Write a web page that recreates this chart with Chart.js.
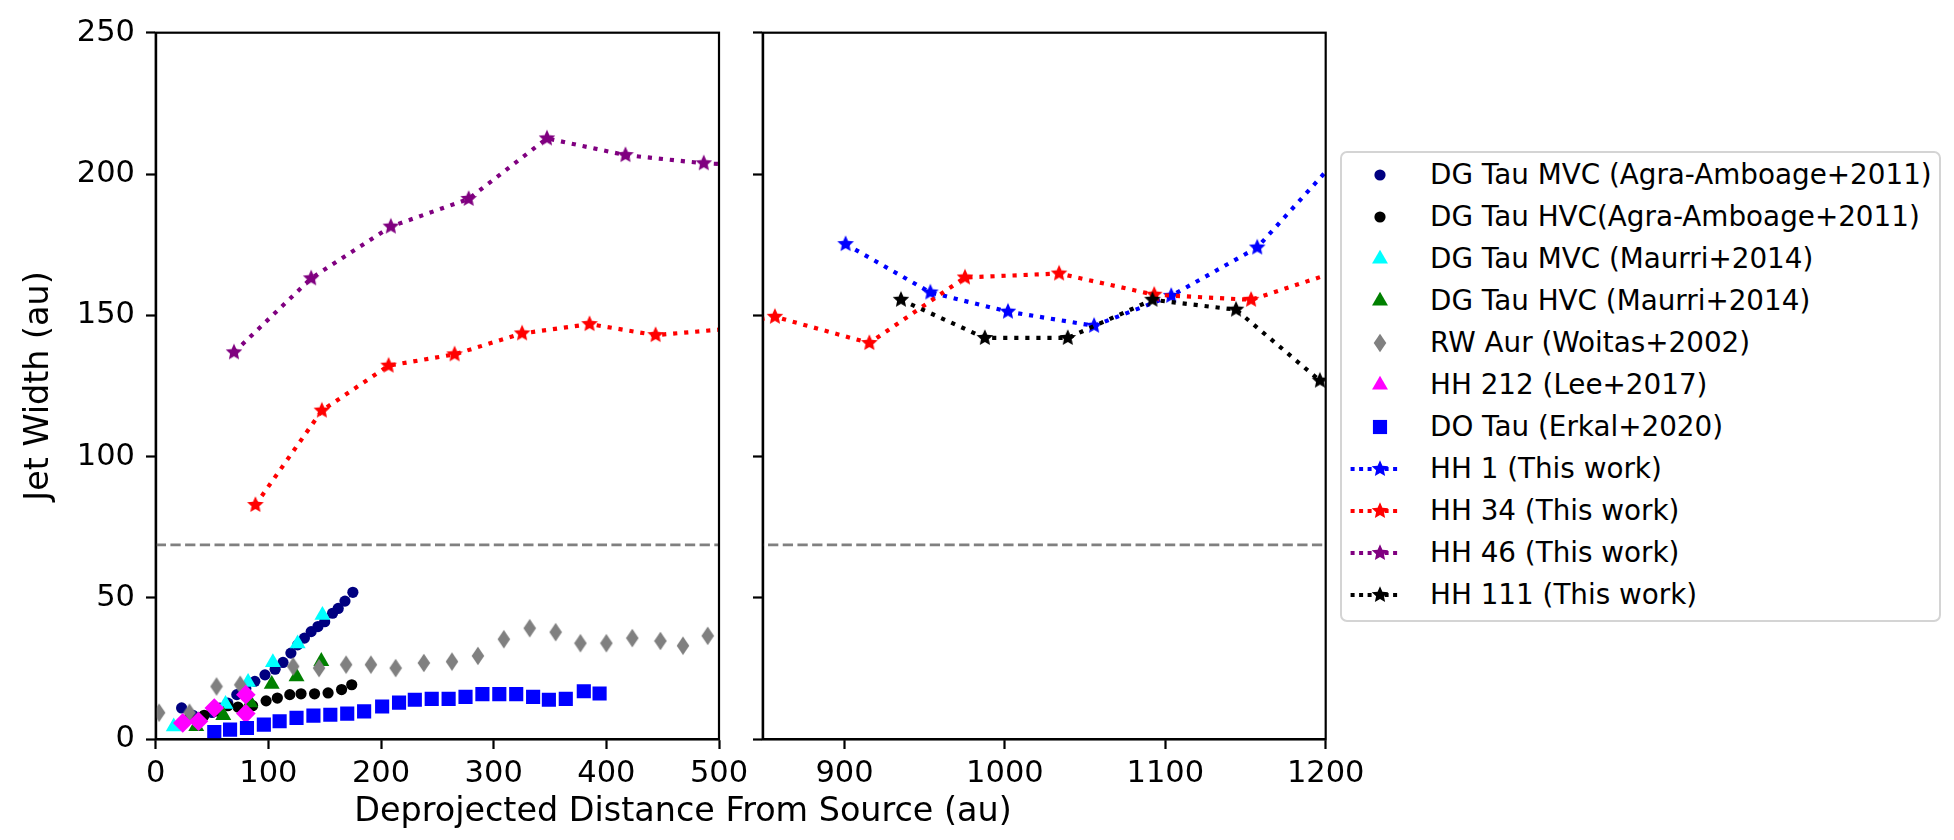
<!DOCTYPE html>
<html>
<head>
<meta charset="utf-8">
<script src="https://cdn.jsdelivr.net/npm/chart.js@4"></script>
<style>
  body { margin: 0; background: #fff; width: 1954px; height: 840px; overflow: hidden; position: relative; font-family: 'DejaVu Sans', sans-serif; }
  canvas.panel { position: absolute; top: 0; }
  #izq { left: 0; }
  #der { left: 740px; }
  #etiquetaX { position: absolute; left: 0; top: 793px; width: 1366px; text-align: center; font-size: 33.4px; line-height: 33.4px; color: #000; }
  #leyenda { position: absolute; left: 1340px; top: 151px; width: 601px; height: 471px; box-sizing: border-box; border: 2px solid #d4d4d4; border-radius: 7px; background: #fff; }
  .fila-texto { position: absolute; left: 88px; font-size: 27.8px; line-height: 42px; height: 42px; white-space: nowrap; color: #000; }
  .fila-marca { position: absolute; left: 3px; }
</style>
</head>
<body>
<canvas id="izq" class="panel" width="760" height="840"></canvas>
<canvas id="der" class="panel" width="631" height="840"></canvas>
<div id="etiquetaX">Deprojected Distance From Source (au)</div>
<div id="leyenda"></div>
<script>
/* ---- datos ---- */
const rangoIzq = [0, 500];
const rangoDer = [849, 1200];
const rangoY = [0, 250];
const ticksIzq = [0, 100, 200, 300, 400, 500];
const ticksDer = [900, 1000, 1100, 1200];
const ticksY = [0, 50, 100, 150, 200, 250];
const anchoUmbral = 68.8;

const mvcAgraX = [23, 33, 42, 50, 57, 64, 72, 80, 88, 97, 106, 113, 120, 126, 132, 138, 144, 150, 157, 162, 168, 175];
const mvcAgraY = [11.1, 8.5, 8.0, 9.5, 11.0, 12.8, 15.8, 18.0, 20.5, 22.8, 24.8, 27.2, 30.5, 33.4, 35.8, 38.1, 39.9, 41.6, 44.6, 46.3, 48.9, 52.0];

const hvcAgraX = [30, 43, 55, 64, 73, 86, 98, 108, 119, 129, 141, 153, 165, 174];
const hvcAgraY = [7.5, 8.5, 10.0, 11.9, 11.4, 11.9, 13.6, 14.6, 15.8, 16.1, 16.1, 16.4, 17.6, 19.3];

const mvcMaurriX = [16, 62, 82, 104, 126, 148];
const mvcMaurriY = [4.5, 12.4, 20.2, 27.2, 33.8, 43.9];

const hvcMaurriX = [36, 60, 84, 103, 125, 147];
const hvcMaurriY = [4.6, 8.5, 13.0, 19.5, 22.2, 27.6];

const rwAurX = [3, 30, 54, 75, 122, 145, 169, 191, 213, 238, 263, 286, 309, 332, 355, 377, 400, 423, 448, 468, 490];
const rwAurY = [9.4, 9.4, 18.7, 19.3, 25.8, 25.2, 26.4, 26.4, 25.2, 27.0, 27.5, 29.5, 35.4, 39.3, 37.9, 34.0, 34.0, 35.8, 34.8, 33.1, 36.6];

const hh212X = [24, 38, 52, 80, 80];
const hh212Y = [5.8, 6.4, 11.1, 15.8, 9.1];

const doTauX = [52, 66, 81, 96, 110, 125, 140, 155, 170, 185, 201, 216, 230, 245, 260, 275, 290, 305, 320, 335, 349, 364, 380, 394];
const doTauY = [2.6, 3.4, 4.0, 5.2, 6.4, 7.6, 8.4, 8.7, 9.1, 9.9, 11.6, 13.0, 14.0, 14.3, 14.3, 15.0, 16.0, 16.0, 16.0, 15.0, 14.0, 14.3, 17.0, 16.2];

const hh1X = [900.7, 953.5, 1001.9, 1055.6, 1103.7, 1157.3, 1211];
const hh1Y = [175.2, 158.1, 151.3, 146.3, 156.9, 174.0, 207.7];

const hh34X = [88.5, 147.5, 206.7, 265.3, 325.2, 385.1, 443.7, 560, 800, 856.6, 915.5, 975.1, 1033.8, 1093.1, 1153.5, 1215];
const hh34Y = [82.9, 116.3, 132.2, 136.2, 143.6, 146.9, 143.0, 147.0, 144.2, 149.5, 140.2, 163.4, 164.8, 157.3, 155.5, 167.0];

const hh46X = [69.5, 138, 208.7, 277.8, 347.3, 417, 486.5, 556];
const hh46Y = [136.9, 163.1, 181.4, 191.2, 212.6, 206.7, 203.8, 202.5];

const hh111X = [935.2, 987.5, 1039.2, 1092.0, 1144.1, 1196.4];
const hh111Y = [155.5, 142.0, 142.0, 155.5, 152.0, 126.9];

/* ---- estilos de cada serie ---- */
const series = [
  { label: 'DG Tau MVC (Agra-Amboage+2011)', x: mvcAgraX, y: mvcAgraY, color: '#000080', marca: 'circle', r: 5.6 },
  { label: 'DG Tau HVC(Agra-Amboage+2011)', x: hvcAgraX, y: hvcAgraY, color: '#000000', marca: 'circle', r: 5.6 },
  { label: 'DG Tau MVC (Maurri+2014)', x: mvcMaurriX, y: mvcMaurriY, color: '#00ffff', marca: 'triangle', r: 9.2 },
  { label: 'DG Tau HVC (Maurri+2014)', x: hvcMaurriX, y: hvcMaurriY, color: '#008000', marca: 'triangle', r: 9.2 },
  { label: 'RW Aur (Woitas+2002)', x: rwAurX, y: rwAurY, color: '#808080', marca: 'fino', r: 9 },
  { label: 'HH 212 (Lee+2017)', x: hh212X, y: hh212Y, color: '#ff00ff', marca: 'rectRot', r: 9.8, marcaLeyenda: 'triangle', rLeyenda: 9.2 },
  { label: 'DO Tau (Erkal+2020)', x: doTauX, y: doTauY, color: '#0000ff', marca: 'rect', r: 10 },
  { label: 'HH 1 (This work)', x: hh1X, y: hh1Y, color: '#0000ff', marca: 'estrella', r: 9, linea: true },
  { label: 'HH 34 (This work)', x: hh34X, y: hh34Y, color: '#ff0000', marca: 'estrella', r: 9, linea: true },
  { label: 'HH 46 (This work)', x: hh46X, y: hh46Y, color: '#800080', marca: 'estrella', r: 9, linea: true },
  { label: 'HH 111 (This work)', x: hh111X, y: hh111Y, color: '#000000', marca: 'estrella', r: 9, linea: true }
];

const fuenteTicks = { family: 'DejaVu Sans', size: 30.5 };

/* Estrella de 5 puntas rellena (estilo matplotlib '*') */
function imagenEstrella(color) {
  const c = document.createElement('canvas');
  c.width = 20; c.height = 20;
  const g = c.getContext('2d');
  g.fillStyle = color;
  g.beginPath();
  for (let k = 0; k < 10; k++) {
    const radio = k % 2 ? 8.7 * 0.47 : 8.7;
    const ang = -Math.PI / 2 + k * Math.PI / 5;
    const px = 10 + radio * Math.cos(ang);
    const py = 10 + radio * Math.sin(ang);
    if (k === 0) g.moveTo(px, py); else g.lineTo(px, py);
  }
  g.closePath();
  g.fill();
  return c;
}

/* Rombo delgado (estilo matplotlib 'd') */
function imagenRomboFino(color) {
  const c = document.createElement('canvas');
  c.width = 14; c.height = 20;
  const g = c.getContext('2d');
  g.fillStyle = color;
  g.beginPath();
  g.moveTo(7, 0.8); g.lineTo(13.3, 10); g.lineTo(7, 19.2); g.lineTo(0.7, 10);
  g.closePath();
  g.fill();
  return c;
}

const cacheImagenes = {};
function estiloPunto(marca, color) {
  const clave = marca + color;
  if (marca === 'estrella') return cacheImagenes[clave] || (cacheImagenes[clave] = imagenEstrella(color));
  if (marca === 'fino') return cacheImagenes[clave] || (cacheImagenes[clave] = imagenRomboFino(color));
  return marca;
}

function construirDatasets() {
  const sets = series.map((s, i) => ({
    label: s.label,
    data: s.x.map((x, k) => ({ x: x, y: s.y[k] })),
    showLine: !!s.linea,
    borderColor: s.color,
    borderWidth: s.linea ? 4.17 : 0,
    borderDash: s.linea ? [4.17, 6.88] : [],
    pointStyle: estiloPunto(s.marca, s.color),
    pointRadius: s.r,
    pointBackgroundColor: s.color,
    pointBorderWidth: 0,
    clip: 0,
    order: 40 - i
  }));
  sets.push({
    label: 'umbral',
    data: [{ x: rangoIzq[0], y: anchoUmbral }, { x: rangoDer[1], y: anchoUmbral }],
    showLine: true,
    borderColor: '#808080',
    borderWidth: 2.78,
    borderDash: [10.3, 4.4],
    pointRadius: 0,
    clip: 0,
    order: 35
  });
  return sets;
}

/* Marco completo alrededor del área (cuatro lados) */
const pluginMarco = {
  id: 'marco',
  afterDraw(chart) {
    const { ctx, chartArea: a } = chart;
    ctx.save();
    ctx.strokeStyle = '#000';
    ctx.lineWidth = 2.2;
    ctx.strokeRect(a.left, a.top, a.right - a.left, a.bottom - a.top);
    ctx.restore();
  }
};

function crearPanel(id, rango, ticksX, conEtiquetasY, padDerecha, anchoEjeY) {
  const ejeY = {
    type: 'linear',
    min: rangoY[0],
    max: rangoY[1],
    afterBuildTicks: (s) => { s.ticks = ticksY.map(v => ({ value: v })); },
    afterFit: (s) => { s.width = anchoEjeY; },
    border: { display: true, color: '#000', width: 2.2 },
    grid: { drawOnChartArea: false, tickLength: 9.7, tickWidth: 2.2, tickColor: '#000' },
    ticks: {
      color: '#000', font: fuenteTicks, padding: 11, autoSkip: false,
      callback: (v) => conEtiquetasY ? String(v) : ''
    }
  };
  if (conEtiquetasY) {
    ejeY.title = {
      display: true, text: 'Jet Width (au)', color: '#000',
      font: { family: 'DejaVu Sans', size: 33.4 },
      padding: { top: 19, bottom: 0 }
    };
  }

  return new Chart(document.getElementById(id), {
    type: 'scatter',
    data: { datasets: construirDatasets() },
    options: {
      responsive: false,
      animation: false,
      events: [],
      layout: { padding: { left: 0, right: padDerecha, top: 32.7, bottom: 0 } },
      plugins: { legend: { display: false }, tooltip: { enabled: false } },
      scales: {
        x: {
          type: 'linear',
          position: 'bottom',
          min: rango[0],
          max: rango[1],
          afterBuildTicks: (s) => { s.ticks = ticksX.map(v => ({ value: v })); },
          afterFit: (s) => { s.height = 100.7; },
          border: { display: true, color: '#000', width: 2.2 },
          grid: { drawOnChartArea: false, tickLength: 9.7, tickWidth: 2.2, tickColor: '#000' },
          ticks: { color: '#000', font: fuenteTicks, padding: 6.5, maxRotation: 0, autoSkip: false, callback: (v) => String(v) }
        },
        y: ejeY
      }
    },
    plugins: [pluginMarco]
  });
}

crearPanel('izq', rangoIzq, ticksIzq, true, 41, 155.7);
crearPanel('der', rangoDer, ticksDer, false, 45, 22.7);

/* ---- leyenda ---- */
function dibujarMarca(ctx, s) {
  const marca = s.marcaLeyenda || s.marca;
  const radio = s.rLeyenda || s.r;
  const estilo = estiloPunto(marca, s.color);
  if (s.linea) {
    ctx.save();
    ctx.strokeStyle = s.color;
    ctx.lineWidth = 4;
    ctx.setLineDash([4, 4.5]);
    ctx.beginPath();
    ctx.moveTo(5.6, 20);
    ctx.lineTo(54.2, 20);
    ctx.stroke();
    ctx.restore();
  }
  ctx.fillStyle = s.color;
  const opciones = { pointStyle: estilo, radius: radio, rotation: 0, borderWidth: 0 };
  if (Chart.helpers && Chart.helpers.drawPoint) {
    Chart.helpers.drawPoint(ctx, opciones, 35, 20);
  } else if (typeof estilo === 'object') {
    ctx.drawImage(estilo, 35 - estilo.width / 2, 20 - estilo.height / 2);
  } else {
    ctx.beginPath();
    ctx.arc(35, 20, radio, 0, Math.PI * 2);
    ctx.fill();
  }
}

const leyenda = document.getElementById('leyenda');
series.forEach((s, i) => {
  const centro = 22 + 41.97 * i;
  const marca = document.createElement('canvas');
  marca.className = 'fila-marca';
  marca.width = 70;
  marca.height = 40;
  marca.style.top = (centro - 20) + 'px';
  leyenda.appendChild(marca);
  dibujarMarca(marca.getContext('2d'), s);

  const texto = document.createElement('div');
  texto.className = 'fila-texto';
  texto.style.top = (centro - 21) + 'px';
  texto.textContent = s.label;
  leyenda.appendChild(texto);
});
</script>
</body>
</html>
